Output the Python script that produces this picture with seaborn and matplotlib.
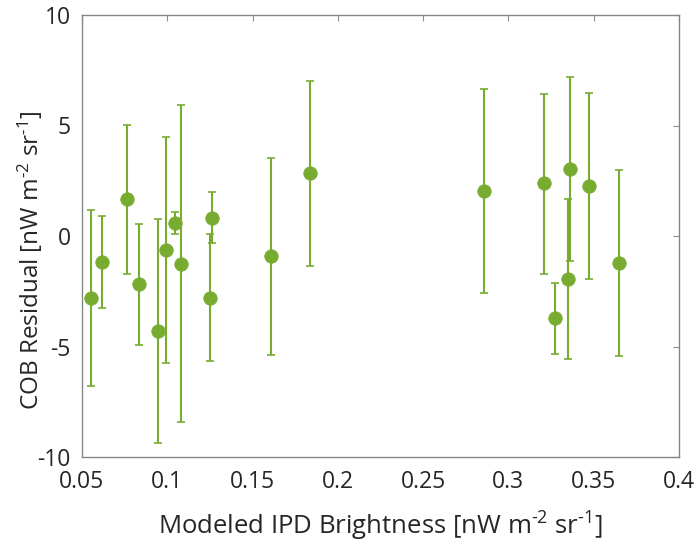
import matplotlib
matplotlib.use("Agg")
import matplotlib.pyplot as plt
import seaborn as sns
import numpy as np
import pandas as pd

# Data
ipd = [0.0554, 0.0619, 0.0765, 0.0837, 0.0944, 0.0995, 0.1043, 0.1078, 0.1263, 0.1253,
       0.1610, 0.1838, 0.2854, 0.3208, 0.3360, 0.3475, 0.3647, 0.3273, 0.3349]
resid = [-2.82, -1.18, 1.67, -2.19, -4.31, -0.63, 0.57, -1.25, 0.81, -2.82,
         -0.90, 2.84, 2.04, 2.38, 3.02, 2.28, -1.22, -3.71, -1.95]
upper = [1.16, 0.89, 5.01, 0.54, 0.78, 4.47, 1.10, 5.93, 1.99, 0.08,
         3.53, 7.01, 6.67, 6.44, 7.21, 6.47, 2.99, -2.13, 1.67]
lower = [-6.80, -3.27, -1.70, -4.92, -9.38, -5.75, 0.09, -8.43, -0.33, -5.67,
         -5.40, -1.37, -2.59, -1.70, -1.13, -1.95, -5.44, -5.35, -5.55]
xticks = [0.05, 0.1, 0.15, 0.2, 0.25, 0.3, 0.35, 0.4]
xtick_labels = ["0.05", "0.1", "0.15", "0.2", "0.25", "0.3", "0.35", "0.4"]
yticks = [-10, -5, 0, 5, 10]
ytick_labels = ["-10", "-5", "0", "5", "10"]

df = pd.DataFrame({"ipd": ipd, "resid": resid, "upper": upper, "lower": lower})

sns.set_style("white")
plt.rcParams["font.family"] = ["Open Sans", "DejaVu Sans"]
plt.rcParams["mathtext.fontset"] = "custom"
plt.rcParams["mathtext.rm"] = "Open Sans"
plt.rcParams["mathtext.default"] = "regular"

green = "#77AC30"
fig = plt.figure(figsize=(6.96, 5.42), dpi=100)
ax = fig.add_axes([82/696, 1-457/542, (679-82)/696, (457-15)/542])

yerr = np.vstack([df["resid"] - df["lower"], df["upper"] - df["resid"]])
ax.errorbar(df["ipd"], df["resid"], yerr=yerr, fmt="none", ecolor=green,
            elinewidth=1.5, capsize=3, capthick=1.2, zorder=2)
sns.scatterplot(data=df, x="ipd", y="resid", color=green, s=95,
                edgecolor=green, linewidth=0.5, ax=ax, zorder=3)

ax.set_xlim(0.05, 0.4)
ax.set_ylim(-10, 10)
ax.set_xticks(xticks)
ax.set_xticklabels(xtick_labels)
ax.set_yticks(yticks)
ax.set_yticklabels(ytick_labels)
ax.tick_params(direction="in", length=4, width=0.8, color="#909090",
               labelsize=16.5, top=True, right=True)
ax.tick_params(axis="x", pad=9)
ax.tick_params(axis="y", pad=8)
for sp in ax.spines.values():
    sp.set_visible(True)
    sp.set_color("#868686")
    sp.set_linewidth(1.0)

ax.set_xlabel(r"Modeled IPD Brightness [nW m$^{\text{-}2}$ sr$^{\text{-}1}$]", fontsize=18.5, labelpad=12)
ax.set_ylabel(r"COB Residual [nW m$^{\text{-}2}$ sr$^{\text{-}1}$]", fontsize=17.5)
ax.yaxis.set_label_coords(-0.062, 0.446)

fig.savefig("out.png", dpi=100)
